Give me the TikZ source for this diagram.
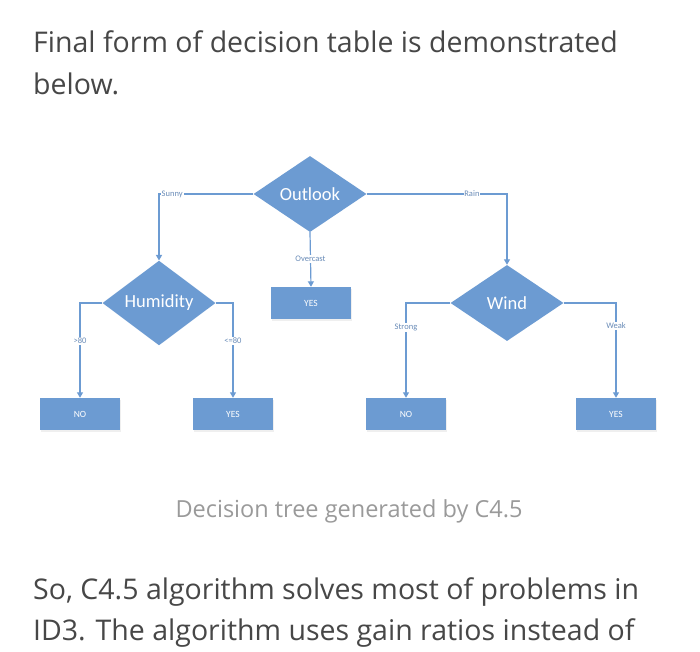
\documentclass[tikz,border=0pt]{standalone}
\usepackage{fontspec}
\setmainfont{Open Sans}
\newfontfamily\diafont{Carlito}
\usetikzlibrary{shapes.geometric,arrows.meta,shadows}
\definecolor{tblue}{HTML}{6C9BD2}
\definecolor{lblue}{HTML}{6A8CB8}
\definecolor{bodytxt}{HTML}{474747}
\definecolor{captxt}{HTML}{9A9A9A}
\begin{document}
\begin{tikzpicture}[x=1pt,y=-1pt,
  dec/.style={diamond,fill=tblue,draw=none,inner sep=0pt,minimum width=113pt,minimum height=76pt,text=white,font=\diafont\fontsize{18.5}{20}\selectfont},
  leaf/.style={rectangle,fill=tblue,draw=none,minimum width=80pt,minimum height=32pt,inner sep=0pt,text=white,font=\diafont\fontsize{9.5}{11}\selectfont,drop shadow={opacity=0.12,shadow xshift=1pt,shadow yshift=-1.5pt}},
  conn/.style={draw=tblue,line width=1.2pt,-{Triangle[width=6pt,length=5.5pt]}},
  elab/.style={fill=white,inner sep=0.8pt,text=lblue,font=\diafont\fontsize{8.5}{10}\selectfont},
  body/.style={anchor=base west,inner sep=0pt,text=bodytxt,font=\fontsize{28.5}{32}\selectfont}]
\useasboundingbox (0,0) rectangle (700,651);
\fill[white] (0,0) rectangle (700,651);
% text
\node[body] (t1) at (33,52) {Final form of decision table is demonstrated};
\node[body] (t2) at (33,94) {below.};
\node[anchor=base,inner sep=0pt,text=captxt,font=\fontsize{23.5}{26}\selectfont] (cap) at (349,517) {Decision tree generated by C4.5};
\node[body] (b1) at (33,599) {So, C4.5 algorithm solves most of problems in};
\node[body] (b2) at (33,640) {ID3. The algorithm uses gain ratios instead of};
% diagram
\node[dec] (outlook) at (310,194) {Outlook};
\node[dec] (hum) at (159,303) {Humidity};
\node[dec] (wind) at (507,303) {Wind};
\node[leaf] (yes1) at (311,303) {YES};
\node[leaf] (no1) at (80,414) {NO};
\node[leaf] (yes2) at (233,414) {YES};
\node[leaf] (no2) at (406,414) {NO};
\node[leaf] (yes3) at (616,414) {YES};
\draw[conn] (outlook.west) -| node[elab,pos=0.43] {Sunny} (hum.north);
\draw[conn] (outlook.east) -| node[elab,pos=0.375] {Rain} (wind.north);
\draw[conn] (outlook.south) -- node[elab,pos=0.49] {Overcast} (yes1.north);
\draw[conn] (hum.west) -| node[elab,pos=0.7] {>80} (no1.north);
\draw[conn] (hum.east) -| node[elab,pos=0.7] {<=80} (yes2.north);
\draw[conn] (wind.west) -| node[elab,pos=0.63] {Strong} (no2.north);
\draw[conn] (wind.east) -| node[elab,pos=0.62] {Weak} (yes3.north);
\end{tikzpicture}
\end{document}
